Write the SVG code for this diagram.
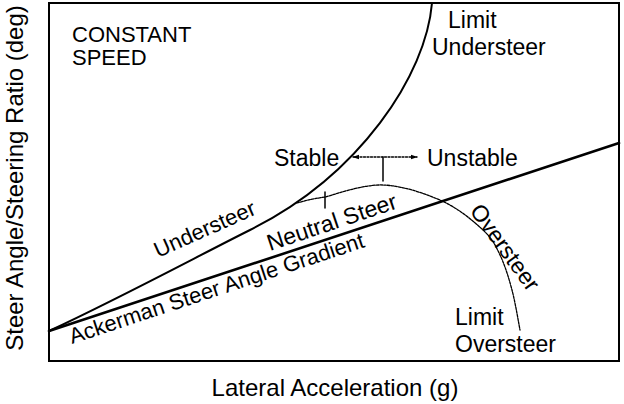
<svg xmlns="http://www.w3.org/2000/svg" width="624" height="404" viewBox="0 0 624 404">
<style>
text{font-family:"Liberation Sans",Arial,sans-serif;fill:#000}
.t{font-size:23px}
.r{font-size:22px}
.ax{font-size:24px}
.line{fill:none;stroke:#000;stroke-linecap:round;stroke-linejoin:round}
</style>
<defs>
<marker id="ah" viewBox="0 0 10 10" refX="9" refY="5" markerWidth="7" markerHeight="7" markerUnits="userSpaceOnUse" orient="auto-start-reverse">
<path d="M0,1.5 L10,5 L0,8.5 Z" fill="#000"/>
</marker>
</defs>
<rect width="624" height="404" fill="#fff"/>
<g id="frame">
<rect x="49" y="3" width="570" height="358" fill="none" stroke="#000" stroke-width="2"/>
</g>
<g id="connectors">
<path id="ackerman" class="line" stroke-width="2.6" d="M49,331 L619,143"/>
<path id="understeer-curve" class="line" stroke-width="2" d="M49,331 C120,298 200,255 250,230 C360,175 426,75 432,3"/>
<path id="neutral-oversteer-curve" class="line" stroke-width="1.3" stroke-dasharray="2.5 1.2" d="M297,203 C302,201.5 311,199 325,197 C339.2,193.2 363.5,184.3 383,185 C402.5,185.7 425.3,193.5 442,201 C458.7,208.5 473.3,221 483,230 C492.7,239 495.2,245 500,255 C504.8,265 508.7,277.5 512,290 C515.3,302.5 518.7,323.3 520,330"/>
<path id="stability-arrow" class="line" stroke-width="1.3" stroke-dasharray="2 1.5" d="M353,157 L417,157" marker-start="url(#ah)" marker-end="url(#ah)"/>
<path id="peak-tick" class="line" stroke-width="1.5" d="M383,157 L383,181"/>
<path id="neutral-tick" class="line" stroke-width="1.5" d="M325,192 L325,208"/>
</g>
<g id="labels">
<text class="r" x="72" y="42" style="font-size:22px">CONSTANT</text>
<text class="r" x="72" y="65" style="font-size:22px">SPEED</text>
<text class="t" x="448" y="28">Limit</text>
<text class="t" x="432" y="55">Understeer</text>
<text class="t" x="274" y="166">Stable</text>
<text class="t" x="427" y="166">Unstable</text>
<text class="r" transform="translate(158,258) rotate(-24)">Understeer</text>
<text class="r" transform="translate(270,251) rotate(-18.5)" style="font-size:23px">Neutral Steer</text>
<text class="r" transform="translate(72,344) rotate(-18.3)">Ackerman Steer Angle Gradient</text>
<text class="r" transform="translate(469,211) rotate(54)" style="font-size:23px">Oversteer</text>
<text class="t" x="455" y="325">Limit</text>
<text class="t" x="455" y="352">Oversteer</text>
<text class="ax" text-anchor="middle" x="335" y="396">Lateral Acceleration (g)</text>
<text class="ax" text-anchor="middle" transform="translate(23,178) rotate(-90)">Steer Angle/Steering Ratio (deg)</text>
</g>
</svg>
